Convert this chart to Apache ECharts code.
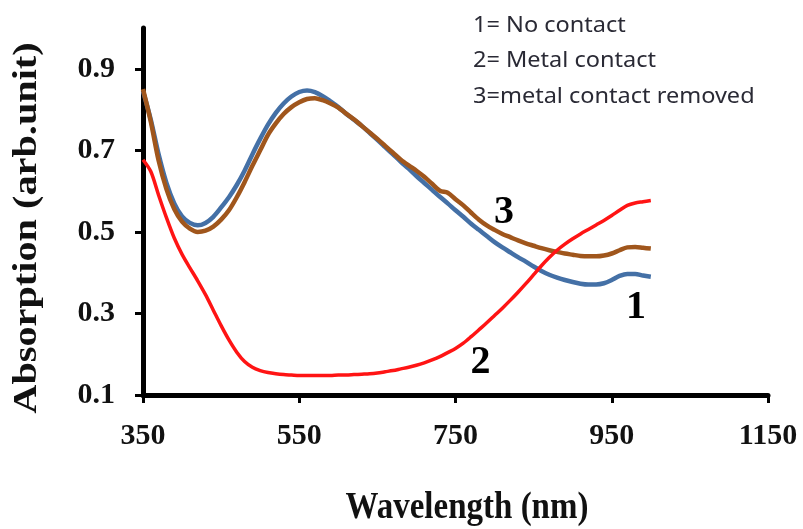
<!DOCTYPE html>
<html>
<head>
<meta charset="utf-8">
<script src="https://cdn.jsdelivr.net/npm/echarts@6/dist/echarts.min.js"></script>
<style>
  html, body { margin: 0; padding: 0; background: #fff; }
  #chart { width: 803px; height: 529px; }
</style>
</head>
<body>
<div id="chart"></div>
<script>
// wavelength (nm), every 10 nm from 350 to 1000
const wavelength = [350, 360, 370, 380, 390, 400, 410, 420, 430, 440,
    450, 460, 470, 480, 490, 500, 510, 520, 530, 540,
    550, 560, 570, 580, 590, 600, 610, 620, 630, 640,
    650, 660, 670, 680, 690, 700, 710, 720, 730, 740,
    750, 760, 770, 780, 790, 800, 810, 820, 830, 840,
    850, 860, 870, 880, 890, 900, 910, 920, 930, 940,
    950, 960, 970, 980, 990, 1000];

// 1 = no contact
const noContact = [0.845, 0.775, 0.69, 0.62, 0.57, 0.538, 0.522, 0.516, 0.522, 0.537,
    0.56, 0.585, 0.615, 0.65, 0.69, 0.728, 0.763, 0.792, 0.815, 0.832,
    0.843, 0.847, 0.843, 0.833, 0.82, 0.806, 0.79, 0.775, 0.76, 0.743,
    0.726, 0.708, 0.69, 0.672, 0.655, 0.637, 0.62, 0.603, 0.586, 0.57,
    0.553, 0.537, 0.52, 0.505, 0.49, 0.475, 0.462, 0.45, 0.438, 0.427,
    0.415, 0.404, 0.395, 0.388, 0.382, 0.377, 0.373, 0.371, 0.371, 0.374,
    0.382, 0.392, 0.397, 0.397, 0.393, 0.39];

// 2 = metal contact
const metalContact = [0.677, 0.648, 0.59, 0.535, 0.485, 0.445, 0.412, 0.38, 0.346, 0.308,
    0.27, 0.235, 0.205, 0.182, 0.168, 0.16, 0.155, 0.152, 0.15, 0.149,
    0.148, 0.148, 0.148, 0.148, 0.148, 0.149, 0.149, 0.15, 0.151, 0.152,
    0.154, 0.157, 0.16, 0.164, 0.168, 0.173, 0.179, 0.186, 0.194, 0.204,
    0.214, 0.227, 0.243, 0.26, 0.277, 0.295, 0.313, 0.332, 0.352, 0.373,
    0.395, 0.417, 0.437, 0.455, 0.47, 0.483, 0.495, 0.506, 0.517, 0.528,
    0.54, 0.553, 0.565, 0.571, 0.574, 0.577];

// 3 = metal contact removed
const contactRemoved = [0.85, 0.77, 0.675, 0.605, 0.556, 0.525, 0.508, 0.5, 0.503, 0.513,
    0.53, 0.553, 0.585, 0.622, 0.662, 0.7, 0.738, 0.766, 0.789, 0.806,
    0.818, 0.826, 0.828, 0.823, 0.815, 0.805, 0.79, 0.776, 0.76, 0.744,
    0.728, 0.711, 0.694, 0.677, 0.663, 0.65, 0.635, 0.618, 0.601, 0.596,
    0.58, 0.565, 0.547, 0.53, 0.516, 0.505, 0.495, 0.487, 0.479, 0.472,
    0.466, 0.46, 0.455, 0.451, 0.447, 0.444, 0.441, 0.44, 0.44, 0.442,
    0.447, 0.455, 0.462, 0.463, 0.461, 0.459];

const xTicks = [350, 550, 750, 950, 1150];
const yTicks = [0.1, 0.3, 0.5, 0.7, 0.9];
const legendLines = ['1= No contact', '2= Metal contact', '3=metal contact removed'];

function pairs(ys) {
    return wavelength.map((x, i) => [x, ys[i]]);
}

const serif = '"Liberation Serif", "Times New Roman", serif';

function curveLabel(name, coord) {
    return {
        symbol: 'circle',
        symbolSize: 1,
        itemStyle: {color: 'transparent'},
        label: {
            show: true,
            formatter: '{b}',
            color: '#000',
            fontFamily: serif,
            fontWeight: 'bold',
            fontSize: 40
        },
        data: [{name: name, coord: coord}]
    };
}

let option = {
    animation: false,
    backgroundColor: '#fff',
    grid: {
        left: 143,
        right: 35,
        top: 28,
        bottom: 134
    },
    xAxis: {
        type: 'value',
        min: 350,
        max: 1150,
        splitLine: {show: false},
        axisLine: {show: true, onZero: false, lineStyle: {color: '#000', width: 5}},
        axisTick: {show: true, customValues: xTicks, length: 8, lineStyle: {color: '#000', width: 3}},
        axisLabel: {
            customValues: xTicks,
            margin: 26,
            color: '#111',
            fontFamily: serif,
            fontWeight: 'bold',
            fontSize: 30,
            formatter: v => String(v)
        }
    },
    yAxis: {
        type: 'value',
        min: 0.1,
        max: 1.0,
        splitLine: {show: false},
        axisLine: {show: true, onZero: false, lineStyle: {color: '#000', width: 5}},
        axisTick: {show: true, customValues: yTicks, length: 8, lineStyle: {color: '#000', width: 3}},
        axisLabel: {
            customValues: yTicks,
            margin: 28,
            color: '#111',
            fontFamily: serif,
            fontWeight: 'bold',
            fontSize: 30,
            formatter: v => v.toFixed(1)
        }
    },
    graphic: [
        {
            type: 'text',
            x: 27,
            y: 228,
            rotation: Math.PI / 2,
            scaleX: 1.22,
            style: {
                text: 'Absorption (arb.unit)',
                fill: '#111',
                font: 'bold 33px ' + serif,
                align: 'center',
                verticalAlign: 'middle'
            }
        },
        {
            type: 'text',
            x: 467,
            y: 508,
            scaleY: 1.15,
            style: {
                text: 'Wavelength (nm)',
                fill: '#111',
                font: 'bold 33px ' + serif,
                align: 'center',
                verticalAlign: 'middle'
            }
        }
    ].concat(legendLines.map((t, i) => ({
        type: 'text',
        x: 473,
        y: 26 + i * 35.5,
        scaleX: 1.12,
        style: {
            text: t,
            fill: '#2a2a35',
            font: '21px "Noto Sans", sans-serif',
            align: 'left',
            verticalAlign: 'middle'
        }
    }))),
    series: [
        {
            name: '1',
            type: 'line',
            data: pairs(noContact),
            smooth: 0.3,
            showSymbol: false,
            lineStyle: {color: '#4470a6', width: 4.5},
            markPoint: curveLabel('1', [981, 0.314])
        },
        {
            name: '3',
            type: 'line',
            data: pairs(contactRemoved),
            smooth: 0.3,
            showSymbol: false,
            lineStyle: {color: '#a0561c', width: 4.5},
            markPoint: curveLabel('3', [812, 0.547])
        },
        {
            name: '2',
            type: 'line',
            data: pairs(metalContact),
            smooth: 0.3,
            showSymbol: false,
            lineStyle: {color: '#ff1414', width: 3.5},
            markPoint: curveLabel('2', [782, 0.179])
        }
    ]
};

let myChart = echarts.init(document.getElementById('chart'));
myChart.setOption(option);
</script>
</body>
</html>
